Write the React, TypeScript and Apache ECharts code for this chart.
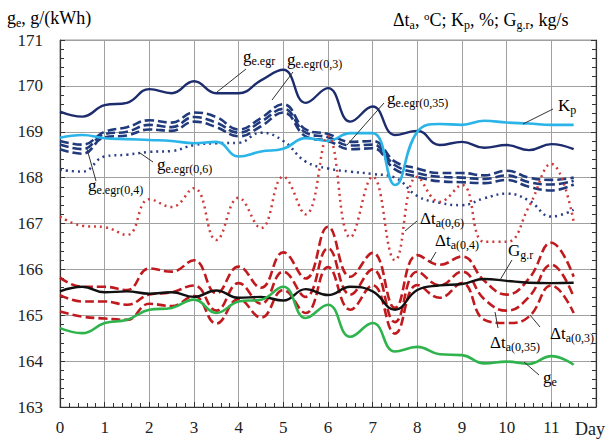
import React, { useEffect, useRef } from "react";
import * as echarts from "echarts";

const DAYS = [0, 0.5, 1, 1.5, 2, 2.5, 3, 3.5, 4, 4.5, 5, 5.5, 6, 6.5, 7, 7.5, 8, 8.5, 9, 9.5, 10, 10.5, 11, 11.5];
const X_TICKS = [0, 1, 2, 3, 4, 5, 6, 7, 8, 9, 10, 11];

const GE_EGR = [169.44, 169.33, 169.58, 169.63, 169.93, 169.84, 170.1, 169.84, 169.84, 170.12, 170.35, 169.63, 169.95, 169.22, 169.55, 168.93, 169.02, 168.71, 168.78, 168.65, 168.71, 168.6, 168.73, 168.62];
const GE_EGR_03 = [168.8, 168.72, 169.0, 169.1, 169.25, 169.2, 169.42, 169.32, 169.05, 169.3, 169.6, 169.05, 168.95, 168.78, 168.8, 168.35, 168.2, 168.1, 168.1, 168.05, 168.15, 168.0, 167.95, 168.0];
const GE_EGR_035 = [168.72, 168.62, 168.95, 169.0, 169.15, 169.1, 169.32, 169.2, 168.98, 169.22, 169.5, 168.98, 168.88, 168.7, 168.72, 168.27, 168.1, 168.02, 168.0, 167.97, 168.05, 167.9, 167.85, 167.93];
const GE_EGR_04 = [168.62, 168.52, 168.88, 168.92, 169.05, 169.02, 169.22, 169.1, 168.9, 169.12, 169.42, 168.9, 168.8, 168.62, 168.64, 168.18, 168.02, 167.92, 167.9, 167.88, 167.95, 167.8, 167.72, 167.85];
const GE_EGR_06 = [168.17, 168.13, 168.46, 168.5, 168.56, 168.58, 168.71, 168.75, 168.76, 168.98, 168.8, 168.35, 168.2, 168.13, 168.08, 168.0, 167.6, 167.45, 167.4, 167.55, 167.65, 167.5, 167.15, 167.3];
const KP = [168.87, 168.93, 168.86, 168.84, 168.82, 168.8, 168.75, 168.78, 168.46, 168.57, 168.63, 168.86, 168.8, 168.97, 168.97, 167.84, 169.0, 169.17, 169.15, 169.24, 169.2, 169.18, 169.15, 169.15];
const DTA_06 = [167.15, 166.95, 166.92, 166.75, 167.53, 167.36, 167.77, 166.64, 167.56, 166.9, 168.02, 167.2, 168.9, 166.7, 168.02, 166.2, 168.02, 167.47, 167.84, 166.6, 166.6, 167.37, 168.3, 167.04];
const DTA_04 = [165.82, 165.62, 165.62, 165.55, 166.02, 165.95, 166.2, 165.48, 166.06, 165.6, 166.37, 165.8, 166.93, 165.84, 166.36, 165.16, 166.31, 166.1, 166.28, 165.75, 165.45, 165.8, 166.58, 165.84];
const DTA_035 = [165.44, 165.3, 165.3, 165.23, 165.45, 165.5, 165.65, 165.1, 165.7, 165.25, 165.95, 165.4, 166.46, 165.45, 166.0, 164.85, 165.95, 165.65, 165.95, 165.35, 165.1, 165.4, 166.1, 165.4];
const DTA_03 = [165.08, 164.97, 164.93, 164.9, 165.25, 165.2, 165.42, 164.82, 165.35, 164.95, 165.55, 165.05, 166.05, 165.12, 165.65, 164.6, 165.66, 165.38, 165.7, 164.9, 164.83, 164.97, 165.65, 165.05];
const GGR = [165.52, 165.62, 165.5, 165.52, 165.47, 165.5, 165.4, 165.54, 165.38, 165.4, 165.32, 165.57, 165.44, 165.62, 165.52, 165.12, 165.55, 165.65, 165.68, 165.79, 165.75, 165.71, 165.7, 165.71];
const GE = [164.72, 164.61, 164.83, 164.9, 165.12, 165.16, 165.34, 165.05, 165.3, 165.34, 165.62, 164.94, 165.23, 164.53, 164.83, 164.21, 164.31, 164.15, 164.13, 163.95, 163.99, 163.94, 164.11, 163.92];

const SERIF = "Liberation Serif";
const NAVY = "#1c2c6c";
const NAVY_D = "#203a7c";
const NAVY_DOT = "#2b3f86";
const SKY = "#2ab4e8";
const RED = "#c01a1e";
const RED_DOT = "#d03a3a";
const GREEN = "#2fb34d";

const rich = {
  m: { fontSize: 17, fontFamily: SERIF, color: "#222" },
  s: { fontSize: 12, fontFamily: SERIF, color: "#222", padding: [9, 0, 0, 0] },
  t: { fontSize: 18, fontFamily: SERIF, color: "#222" },
  ts: { fontSize: 12, fontFamily: SERIF, color: "#222", padding: [9, 0, 0, 0] },
  tp: { fontSize: 11, fontFamily: SERIF, color: "#222", padding: [0, 0, 9, 0] },
};

type Lab = { x: number; y: number; text: string; line: number[] };
const LABELS: Lab[] = [
  { x: 243, y: 56, text: "{m|g}{s|e.egr}", line: [246, 69, 217, 92] },
  { x: 287, y: 59, text: "{m|g}{s|e.egr(0,3)}", line: [293, 72, 272, 100] },
  { x: 387, y: 98, text: "{m|g}{s|e.egr(0,35)}", line: [384, 103, 347, 145] },
  { x: 558, y: 105, text: "{m|K}{s|p}", line: [553, 109, 523, 124] },
  { x: 88, y: 185, text: "{m|g}{s|e.egr(0,4)}", line: [96, 181, 87, 149] },
  { x: 157, y: 164, text: "{m|g}{s|e.egr(0,6)}", line: [153, 162, 140, 153] },
  { x: 420, y: 218, text: "{m|Δt}{s|a(0,6)}", line: [417, 221, 405, 231] },
  { x: 435, y: 240, text: "{m|Δt}{s|a(0,4)}", line: [436, 252, 430, 262] },
  { x: 508, y: 250, text: "{m|G}{s|g.r}", line: [512, 260, 500, 280] },
  { x: 550, y: 333, text: "{m|Δt}{s|a(0,3)}", line: [540, 327, 530, 315] },
  { x: 490, y: 342, text: "{m|Δt}{s|a(0,35)}", line: [498, 328, 495, 312] },
  { x: 543, y: 377, text: "{m|g}{s|e}", line: [539, 375, 524, 362] },
];

function mk(name: string, vals: number[], color: string, type: any, width: number, z: number) {
  return {
    name,
    type: "line",
    data: DAYS.map((d, i) => [d, vals[i]]),
    smooth: 0.45,
    showSymbol: false,
    symbol: "none",
    z,
    lineStyle: { color, width, type, cap: "butt" },
  };
}

export default function App() {
  const ref = useRef<HTMLDivElement>(null);
  useEffect(() => {
    if (!ref.current) return;
    const chart = echarts.init(ref.current, undefined, { renderer: "svg" });
    const graphics: any[] = [];
    LABELS.forEach((l) => {
      graphics.push({
        type: "line",
        shape: { x1: l.line[0], y1: l.line[1], x2: l.line[2], y2: l.line[3] },
        style: { stroke: "#333", lineWidth: 1 },
        z: 50,
      });
      graphics.push({
        type: "text",
        x: l.x,
        y: l.y,
        style: { text: l.text, rich, verticalAlign: "middle", align: "left" },
        z: 51,
      });
    });
    graphics.push({
      type: "text",
      x: 7,
      y: 18,
      style: { text: "{t|g}{ts|e}{t|, g/(kWh)}", rich, verticalAlign: "middle" },
    });
    graphics.push({
      type: "text",
      x: 393,
      y: 20,
      style: {
        text: "{t|Δt}{ts|a}{t|, }{tp|o}{t|C; K}{ts|p}{t|, %; G}{ts|g.r}{t|, kg/s}",
        rich,
        verticalAlign: "middle",
      },
    });
    graphics.push({
      type: "text",
      x: 575,
      y: 429,
      style: { text: "Day", fontSize: 18, fontFamily: SERIF, fill: "#222", verticalAlign: "middle" },
    });

    const yBase = {
      type: "value",
      min: 163,
      max: 171,
      interval: 1,
      axisLine: { show: true, lineStyle: { color: "#333", width: 1.2 } },
      axisTick: { show: true, inside: true, length: 5, lineStyle: { color: "#333" } },
      minorTick: { show: true, splitNumber: 5, length: 4, lineStyle: { color: "#333" } },
    };

    chart.setOption({
      animation: false,
      backgroundColor: "#fff",
      textStyle: { fontFamily: SERIF },
      grid: { left: 60, right: 16, top: 40, bottom: 36, show: true, borderColor: "#999", borderWidth: 1 },
      xAxis: {
        type: "value",
        min: 0,
        max: 12,
        interval: 1,
        axisLine: { show: true, onZero: false, lineStyle: { color: "#333", width: 1.2 } },
        axisTick: { show: true, inside: true, length: 5, lineStyle: { color: "#333" } },
        minorTick: { show: true, splitNumber: 5, length: 4, lineStyle: { color: "#333" } },
        splitLine: { show: true, lineStyle: { color: "#a0a0a0", width: 1 } },
        axisLabel: {
          fontSize: 17,
          fontFamily: SERIF,
          color: "#222",
          margin: 12,
          formatter: (v: number) => (X_TICKS.includes(v) ? String(v) : ""),
        },
      },
      yAxis: [
        {
          ...yBase,
          position: "left",
          splitLine: { show: true, lineStyle: { color: "#a0a0a0", width: 1 } },
          axisLabel: { fontSize: 17, fontFamily: SERIF, color: "#222", margin: 17 },
        },
        {
          ...yBase,
          position: "right",
          splitLine: { show: false },
          axisLabel: { show: false },
        },
      ],
      series: [
        mk("ge.egr(0,6)", GE_EGR_06, NAVY_DOT, [2, 4], 2.5, 2),
        mk("ge.egr(0,4)", GE_EGR_04, NAVY_D, [9, 4], 2.6, 3),
        mk("ge.egr(0,35)", GE_EGR_035, NAVY_D, [9, 4], 2.6, 3),
        mk("ge.egr(0,3)", GE_EGR_03, NAVY_D, [9, 4], 2.6, 3),
        mk("ge.egr", GE_EGR, NAVY, "solid", 2.4, 4),
        mk("Kp", KP, SKY, "solid", 2.6, 5),
        mk("Δta(0,6)", DTA_06, RED_DOT, [2, 4], 2.5, 6),
        mk("Δta(0,4)", DTA_04, RED, [9, 4], 2.6, 7),
        mk("Δta(0,35)", DTA_035, RED, [9, 4], 2.6, 7),
        mk("Δta(0,3)", DTA_03, RED, [9, 4], 2.6, 7),
        mk("Gg.r", GGR, "#111", "solid", 2.4, 8),
        mk("ge", GE, GREEN, "solid", 2.6, 9),
      ],
      graphic: graphics,
    });
    return () => chart.dispose();
  }, []);
  return <div ref={ref} style={{ width: 612, height: 443, position: "absolute", left: 0, top: 0 }} />;
}
